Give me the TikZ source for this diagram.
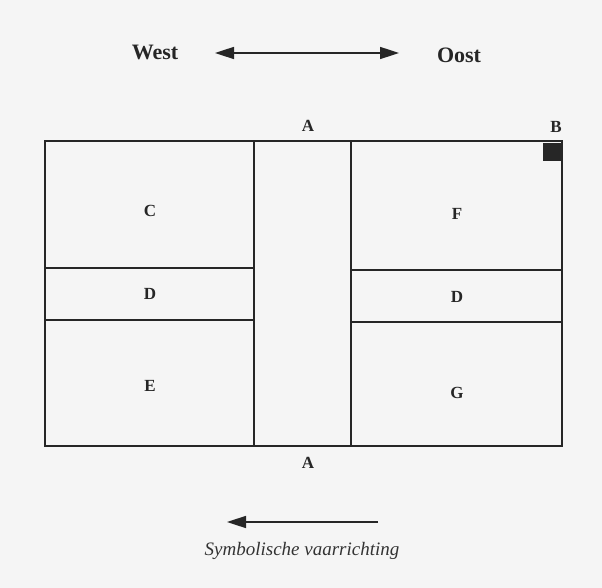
\documentclass[tikz,border=0pt]{standalone}
\usepackage{fontspec}
\setmainfont{Liberation Serif}
\usetikzlibrary{arrows.meta}
\begin{document}
\begin{tikzpicture}[x=1pt,y=-1pt,
  wall/.style={draw=black!85, line width=1.2pt},
  lbl/.style={font=\bfseries\fontsize{17}{19}\selectfont, text=black!85},
  dir/.style={font=\bfseries\fontsize{22}{24}\selectfont, text=black!85},
  arr/.style={draw=black!85, line width=1.6pt, -{Triangle[length=19pt,width=12pt]}}]
\fill[black!4] (0,0) rectangle (602,588);
\useasboundingbox (0,0) rectangle (602,588);
% outer frame
\coordinate (tl) at (45,141);
\coordinate (br) at (562,446);
\draw[wall] (tl) rectangle (br);
% central aisle
\draw[wall] (254,141) -- (254,446);
\draw[wall] (351,141) -- (351,446);
% dividers
\draw[wall] (45,268) -- (254,268);
\draw[wall] (45,320) -- (254,320);
\draw[wall] (351,270) -- (562,270);
\draw[wall] (351,322) -- (562,322);
% square B
\fill[black!85] (543,143) rectangle (562,161);
% labels
\node[lbl] (c) at (150,211) {C};
\node[lbl] (d1) at (150,294) {D};
\node[lbl] (e) at (150,386) {E};
\node[lbl] (f) at (457,214) {F};
\node[lbl] (d2) at (457,297) {D};
\node[lbl] (g) at (457,393) {G};
\node[lbl] (atop) at (308,126) {A};
\node[lbl] (abot) at (308,463) {A};
\node[lbl] (b) at (556,127) {B};
% direction
\node[dir] (west) at (155,52) {West};
\node[dir] (oost) at (459,55) {Oost};
\coordinate (wl) at (215,53);
\coordinate (wr) at (399,53);
\draw[arr,{Triangle[length=19pt,width=12pt]}-{Triangle[length=19pt,width=12pt]}] (wl) -- (wr);
\coordinate (s1) at (378,522);
\coordinate (s2) at (227,522);
\draw[arr] (s1) -- (s2);
\node[font=\itshape\fontsize{19}{21}\selectfont, text=black!80] (cap) at (302,551) {Symbolische vaarrichting};
\end{tikzpicture}
\end{document}
